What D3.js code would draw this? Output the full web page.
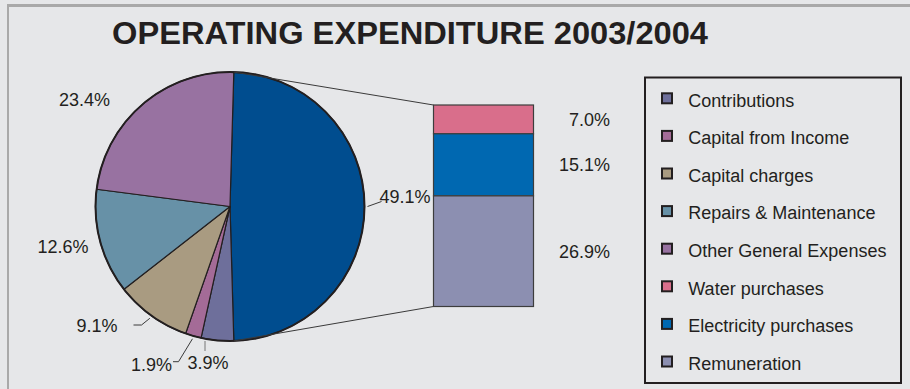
<!DOCTYPE html>
<html>
<head>
<meta charset="utf-8">
<script src="https://cdn.jsdelivr.net/npm/d3@7/dist/d3.min.js"></script>
<style>
  html, body { margin: 0; padding: 0; background: #e6e7e9; }
  svg { display: block; }
  text { font-family: "Liberation Sans", Arial, Helvetica, sans-serif; fill: #231f20; }
</style>
</head>
<body>
<svg id="chart" width="910" height="389"></svg>
<script>
// Operating expenditure 2003/2004, shares of total (%)
const titleText = "OPERATING EXPENDITURE 2003/2004";

// Pie: the remaining categories
const pieCategories = ["Contributions", "Capital from Income", "Capital charges",
                       "Repairs & Maintenance", "Other General Expenses"];
const pieValues = [3.9, 1.9, 9.1, 12.6, 23.4];

// Combined slice that is broken out into the bar
const combinedLabel = "Water, Electricity & Remuneration";
const combinedValue = 49.1;

// Bar: breakdown of the combined slice (top to bottom)
const barCategories = ["Water purchases", "Electricity purchases", "Remuneration"];
const barValues = [7.0, 15.1, 26.9];

// Legend order
const legendCategories = ["Contributions", "Capital from Income", "Capital charges",
  "Repairs & Maintenance", "Other General Expenses", "Water purchases",
  "Electricity purchases", "Remuneration"];

const colors = {
  "Contributions": "#6e6f9b",
  "Capital from Income": "#a46b97",
  "Capital charges": "#a99b81",
  "Repairs & Maintenance": "#6791a7",
  "Other General Expenses": "#9872a1",
  "Water purchases": "#d96e8b",
  "Electricity purchases": "#0068b1",
  "Remuneration": "#8c8fb1",
  [combinedLabel]: "#004d8f"
};

const svg = d3.select("#chart");
const fmt = v => d3.format(".1f")(v) + "%";
const ink = "#231f20";

// Frame edges
svg.append("line").attr("x1", 7).attr("x2", 910).attr("y1", 5.5).attr("y2", 5.5)
  .attr("stroke", "#a9a9a9").attr("stroke-width", 3);
svg.append("line").attr("x1", 8).attr("x2", 8).attr("y1", 4).attr("y2", 389)
  .attr("stroke", "#a9a9a9").attr("stroke-width", 2);

// Title
svg.append("text")
  .attr("x", 112).attr("y", 43.5)
  .attr("textLength", 596).attr("lengthAdjust", "spacingAndGlyphs")
  .style("font-size", "32px").style("font-weight", "bold")
  .text(titleText);

// ---- Pie ----
const cx = 230, cy = 206.5, R = 134.5;
const pieData = [{ name: combinedLabel, value: combinedValue }]
  .concat(pieCategories.map((n, i) => ({ name: n, value: pieValues[i] })));
const total = d3.sum(pieData, d => d.value);
// the combined slice is centred on the right-hand side, facing the bar
const offset = (Math.PI - 2 * Math.PI * combinedValue / total) / 2;
const pie = d3.pie().sort(null).value(d => d.value)
  .startAngle(offset).endAngle(offset + 2 * Math.PI);
const arcs = pie(pieData);
const arc = d3.arc().innerRadius(0).outerRadius(R);

const gPie = svg.append("g").attr("transform", `translate(${cx},${cy})`);

// ---- Bar ----
const barX = 433.5, barW = 100, barTop = 105, barBottom = 306.5;
const barSum = d3.sum(barValues);
const y = d3.scaleLinear().domain([0, barSum]).range([barTop, barBottom]);
const barStack = [];
let acc = 0;
barValues.forEach((v, i) => { barStack.push({ name: barCategories[i], value: v, y0: acc, y1: acc + v }); acc += v; });

// Connector lines from the combined slice edges to the bar corners
const big = arcs[0];
const polar = (a, r) => [cx + r * Math.sin(a), cy - r * Math.cos(a)];
const pTop = polar(big.startAngle, R), pBot = polar(big.endAngle, R);
svg.append("line").attr("x1", pTop[0]).attr("y1", pTop[1]).attr("x2", barX).attr("y2", y(0))
  .attr("stroke", "#3a3a3a").attr("stroke-width", 1);
svg.append("line").attr("x1", pBot[0]).attr("y1", pBot[1]).attr("x2", barX).attr("y2", y(barSum))
  .attr("stroke", "#3a3a3a").attr("stroke-width", 1);

gPie.selectAll("path.slice").data(arcs).join("path")
  .attr("class", "slice")
  .attr("d", arc)
  .attr("fill", d => colors[d.data.name])
  .attr("stroke", ink).attr("stroke-width", 1.2).attr("stroke-linejoin", "round");
gPie.append("circle").attr("r", R).attr("fill", "none").attr("stroke", ink).attr("stroke-width", 2);

svg.selectAll("rect.seg").data(barStack).join("rect")
  .attr("class", "seg")
  .attr("x", barX).attr("width", barW)
  .attr("y", d => y(d.y0)).attr("height", d => y(d.y1) - y(d.y0))
  .attr("fill", d => colors[d.name])
  .attr("stroke", "#3d3d3d").attr("stroke-width", 1.2);

svg.selectAll("text.barlab").data(barStack).join("text")
  .attr("class", "barlab")
  .attr("x", 610).attr("y", d => (y(d.y0) + y(d.y1)) / 2 + 6.5)
  .attr("text-anchor", "end").style("font-size", "18px")
  .text(d => fmt(d.value));

// ---- Pie labels ----
// label anchor (text end-x or start-x, baseline) and leader elbows
const labelLayout = {
  [combinedLabel]:          { x: 379.5, y: 203, anchor: "start", elbow: [[381.5, 201.5]] },
  "Contributions":          { x: 228.5, y: 369, anchor: "end",   elbow: [[205, 351], [205, 341]], leaderColor: "#777" },
  "Capital from Income":    { x: 172,   y: 370.5, anchor: "end", elbow: [[173, 361.7], [178.5, 361.7]] },
  "Capital charges":        { x: 117.5, y: 332, anchor: "end",   elbow: [[133.5, 325], [141.5, 325]] },
  "Repairs & Maintenance":  { x: 88.5,  y: 253, anchor: "end" },
  "Other General Expenses": { x: 110,   y: 106, anchor: "end" }
};

arcs.forEach(a => {
  const L = labelLayout[a.data.name];
  const mid = (a.startAngle + a.endAngle) / 2;
  if (L.elbow) {
    let pts;
    if (a.data.name === "Contributions") {
      pts = L.elbow;
    } else {
      pts = L.elbow.concat([polar(mid, R + 3)]);
    }
    svg.append("path")
      .attr("d", d3.line()(pts))
      .attr("fill", "none")
      .attr("stroke", L.leaderColor || "#3a3a3a").attr("stroke-width", 1);
  }
  svg.append("text")
    .attr("x", L.x).attr("y", L.y)
    .attr("text-anchor", L.anchor)
    .style("font-size", "18px")
    .text(fmt(a.data.value));
});

// ---- Legend ----
svg.append("rect")
  .attr("x", 645).attr("y", 77.5).attr("width", 256).attr("height", 305.5)
  .attr("fill", "none").attr("stroke", ink).attr("stroke-width", 2);

const rowY = i => 98.3 + i * 37.6;
const leg = svg.selectAll("g.leg").data(legendCategories).join("g")
  .attr("class", "leg")
  .attr("transform", (d, i) => `translate(0,${rowY(i)})`);
leg.append("rect")
  .attr("x", 662).attr("y", -5).attr("width", 10).attr("height", 10)
  .attr("fill", d => colors[d]).attr("stroke", ink).attr("stroke-width", 2);
leg.append("text")
  .attr("x", 688.3).attr("y", 8.3)
  .style("font-size", "18px")
  .text(d => d);
</script>
</body>
</html>
